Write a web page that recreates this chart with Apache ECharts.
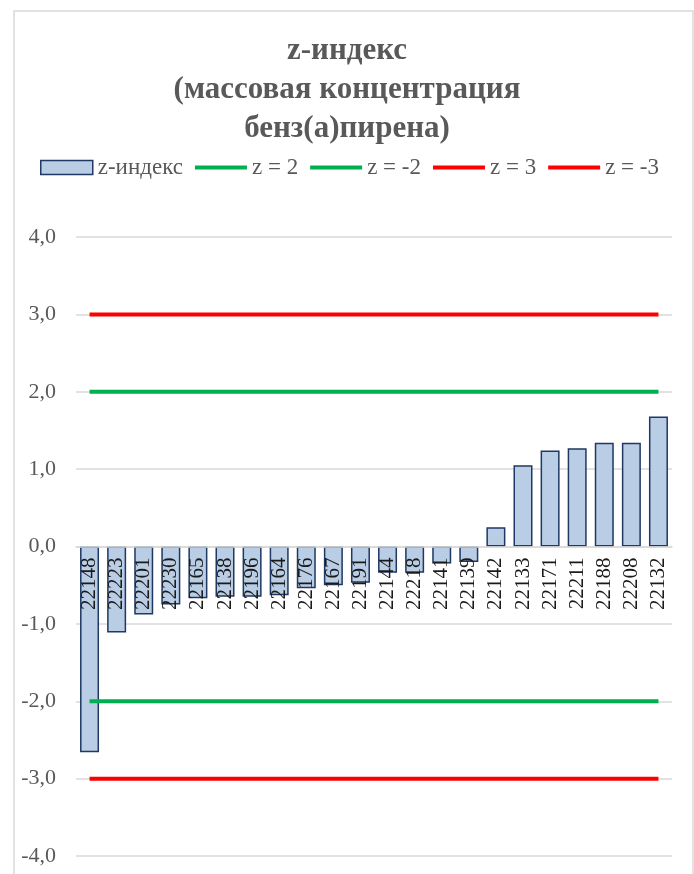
<!DOCTYPE html>
<html>
<head>
<meta charset="utf-8">
<script src="https://cdn.jsdelivr.net/npm/echarts@6/dist/echarts.min.js"></script>
<style>html,body{margin:0;padding:0;background:#fff}#c{width:694px;height:874px}</style>
</head>
<body>
<div id="c"></div>
<script>
const categories = ['22148','22223','22201','22230','22165','22138','22196','22164','22176','22167','22191','22144','22218','22141','22139','22142','22133','22171','22211','22188','22208','22132'];
const zValues = [-2.66,-1.11,-0.88,-0.75,-0.67,-0.65,-0.65,-0.63,-0.54,-0.50,-0.47,-0.34,-0.34,-0.22,-0.20,0.25,1.05,1.24,1.27,1.34,1.34,1.68];
const lineNames = ['z = 2','z = -2','z = 3','z = -3'];
const lineLevels = [2,-2,3,-3];
const lineColors = ['#00b050','#00b050','#ff0000','#ff0000'];
const yTicks = [-4,-3,-2,-1,0,1,2,3,4];

const font = '"Liberation Serif", "Times New Roman", serif';
const chart = echarts.init(document.getElementById('c'), null, {renderer:'canvas'});

const gridTop = 237, gridBottom = 18, H = 874;
const gridH = H - gridTop - gridBottom;
const zeroOffset = -gridH * (0 - (-4)) / 8; // move category axis to y = 0

const lineSeries = lineNames.map((n,i)=>({
  name:n, type:'line', data: categories.map(()=>lineLevels[i]),
  symbol:'none', lineStyle:{color:lineColors[i], width:4}, itemStyle:{color:lineColors[i]},
  z:3, silent:true, animation:false
}));

chart.setOption({
  animation:false,
  graphic:[{type:'rect', shape:{x:14,y:11,width:679,height:870}, style:{fill:'none', stroke:'#d9d9d9', lineWidth:1.5}, silent:true}],
  title:{
    text:'z-индекс\n(массовая концентрация\nбенз(а)пирена)',
    left:'center', top:26,
    textStyle:{fontFamily:font, fontWeight:'bold', fontSize:31, color:'#595959', lineHeight:39}
  },
  legend:{
    top:151, left:35, itemGap:12,
    textStyle:{fontFamily:font, fontSize:23, color:'#595959'},
    data:[
      {name:'z-индекс', icon:'rect', itemStyle:{color:'#b9cde5', borderColor:'#1f3864', borderWidth:1.5}},
      ...lineNames.map((n,i)=>({name:n, icon:'path://M0,0 L50,0 L50,4 L0,4 Z', itemStyle:{color:lineColors[i], borderWidth:0}}))
    ],
    itemWidth:52, itemHeight:14
  },
  grid:{left:76, right:22, top:gridTop, bottom:gridBottom, containLabel:false, outerBoundsMode:'none'},
  xAxis:{
    type:'category', data:categories, z:10, position:'bottom', offset:zeroOffset,
    axisLine:{onZero:false, lineStyle:{color:'#d9d9d9', width:1.5}},
    axisTick:{show:false},
    axisLabel:{rotate:90, interval:0, margin:11, fontFamily:font, fontSize:21, color:'#1a1a1a'}
  },
  yAxis:{
    type:'value', min:-4, max:4, interval:1,
    axisLine:{show:false}, axisTick:{show:false},
    splitLine:{lineStyle:{color:'#d9d9d9', width:1.5}},
    axisLabel:{margin:20, fontFamily:font, fontSize:22, color:'#595959',
      formatter:v=>yTicks.includes(v)? v.toFixed(1).replace('.',','):''}
  },
  series:[
    {name:'z-индекс', type:'bar', data:zValues, barWidth:19,
     itemStyle:{color:'#b9cde5', borderColor:'#1f3864', borderWidth:1.5}, z:2},
    ...lineSeries
  ]
});
</script>
</body>
</html>
